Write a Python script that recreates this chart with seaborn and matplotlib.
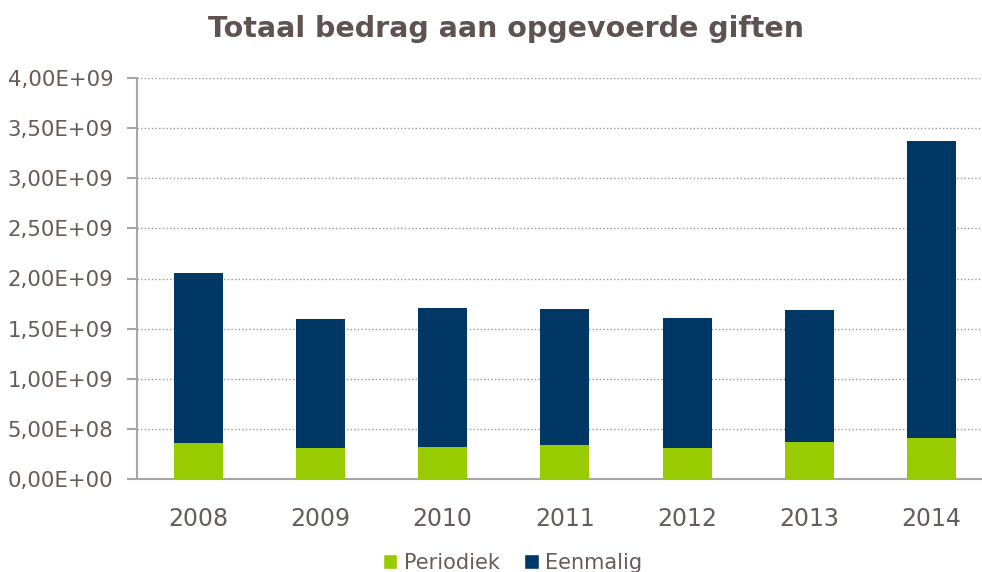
import matplotlib
matplotlib.use("Agg")
import matplotlib.pyplot as plt
import seaborn as sns
import pandas as pd
from matplotlib.patches import Patch
from matplotlib.ticker import FuncFormatter, FixedLocator

years = ["2008", "2009", "2010", "2011", "2012", "2013", "2014"]
periodiek = [0.36e9, 0.31e9, 0.32e9, 0.34e9, 0.31e9, 0.37e9, 0.41e9]
eenmalig = [1.695e9, 1.29e9, 1.39e9, 1.36e9, 1.30e9, 1.32e9, 2.96e9]
title = "Totaal bedrag aan opgevoerde giften"
yticks = [0, 0.5e9, 1.0e9, 1.5e9, 2.0e9, 2.5e9, 3.0e9, 3.5e9, 4.0e9]

green = "#99cc00"
navy = "#003764"
txt = "#665c58"
axis_col = "#a6a6a6"

df = pd.DataFrame({"year": years, "periodiek": periodiek, "eenmalig": eenmalig})
df["totaal"] = df["periodiek"] + df["eenmalig"]

sns.set_style("white")
plt.rcParams["font.family"] = ["DejaVu Sans"]

fig = plt.figure(figsize=(9.82, 5.72), dpi=100)
ax = fig.add_axes([137 / 982, 1 - 479 / 572, 1 - 137 / 982 + 0.011, (479 - 78) / 572])

sns.barplot(data=df, x="year", y="totaal", color=navy, width=0.4, ax=ax,
            saturation=1, zorder=3, linewidth=0)
sns.barplot(data=df, x="year", y="periodiek", color=green, width=0.4, ax=ax,
            saturation=1, zorder=4, linewidth=0)

ax.set_ylim(0, 4e9)
ax.set_xlim(-0.5, 6.5)
ax.set_xlabel("")
ax.set_ylabel("")
ax.yaxis.set_major_locator(FixedLocator(yticks))
ax.yaxis.set_major_formatter(FuncFormatter(lambda v, p: f"{v:.2E}".replace(".", ",")))
ax.grid(axis="y", color="#9a9a9a", linestyle=(0, (1.0, 1.6)), linewidth=1.0, zorder=0)
ax.set_axisbelow(True)

ax.set_xticks(range(len(years)))
ax.set_xticks([i - 0.5 for i in range(len(years) + 1)], minor=True)
ax.tick_params(axis="x", which="major", length=0, pad=20, labelsize=17, labelcolor=txt)
ax.tick_params(axis="x", which="minor", length=7, width=1.5, color=axis_col, direction="out")
ax.tick_params(axis="y", which="major", length=7, width=1.5, color=axis_col,
               direction="out", pad=10, labelsize=15.3, labelcolor=txt, left=True)

for s in ["top", "right"]:
    ax.spines[s].set_visible(False)
for s in ["left", "bottom"]:
    ax.spines[s].set_color(axis_col)
    ax.spines[s].set_linewidth(1.5)

fig.text(0.515, 1 - 29 / 572, title, ha="center", va="center", fontsize=20.5,
         fontweight="bold", color="#5e5350")

handles = [Patch(facecolor=green, label="Periodiek"), Patch(facecolor=navy, label="Eenmalig")]
fig.legend(handles=handles, loc="center", bbox_to_anchor=(0.522, 1 - 563 / 572), ncol=2,
           frameon=False, handlelength=0.7, handleheight=0.7, handletextpad=0.3,
           columnspacing=1.2, fontsize=15, labelcolor=txt)

fig.savefig("out.png", dpi=100)
